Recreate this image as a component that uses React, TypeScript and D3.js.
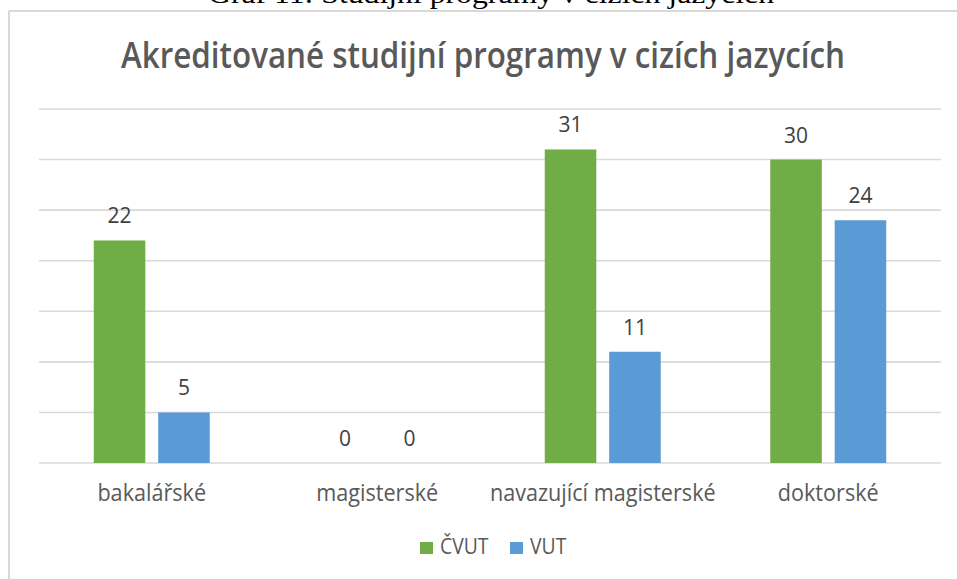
import * as d3 from "d3";

// chart data
const categories = ["bakalářské", "magisterské", "navazující magisterské", "doktorské"];
const seriesNames = ["ČVUT", "VUT"];
const cvut = [22, 0, 31, 30];
const vut = [5, 0, 11, 24];
const yTicks = [0, 5, 10, 15, 20, 25, 30, 35];

const caption = "Graf 11: Studijní programy v cizích jazycích";
const title = "Akreditované studijní programy v cizích jazycích";

const colors = ["#70ad47", "#5b9bd5"];
const W = 957;
const H = 579;
const font = "'Open Sans', 'Noto Sans', sans-serif";
// Calibri is narrower than anything installed, so squash text a bit
const squash = 0.88;

export default function App() {
  const values = [cvut, vut];

  const x0 = d3.scaleBand<string>().domain(categories).range([39, 941]);
  const bw = x0.bandwidth();
  const x1 = d3
    .scaleBand<string>()
    .domain(seriesNames)
    .range([bw / 2 - 58, bw / 2 + 58])
    .paddingInner(0.2);

  const y = d3.scaleLinear().domain([0, 35]).range([463, 109]);

  return (
    <div style={{ position: "fixed", left: 0, top: 0 }}>
      <svg width={W} height={H} style={{ display: "block", background: "#fff" }}>
        {/* caption of the document, cut off at the top like in the source page */}
        <text
          x={491}
          y={3}
          textAnchor="middle"
          fontFamily="'Liberation Serif', 'Times New Roman', serif"
          fontSize={28}
          fill="#000"
          textLength={566}
          lengthAdjust="spacingAndGlyphs"
        >
          {caption}
        </text>

        {/* chart frame */}
        <line x1={9} x2={W} y1={11} y2={11} stroke="#d9d9d9" strokeWidth={2} />
        <line x1={9} x2={9} y1={11} y2={H} stroke="#d9d9d9" strokeWidth={2} />

        {/* title */}
        <text
          x={483}
          y={68}
          textAnchor="middle"
          fontFamily={font}
          fontSize={36}
          fontWeight={600}
          fill="#595959"
          textLength={724}
          lengthAdjust="spacingAndGlyphs"
        >
          {title}
        </text>

        {/* grid */}
        {yTicks.map((t) => (
          <line
            key={t}
            x1={39}
            x2={941}
            y1={y(t)}
            y2={y(t)}
            stroke="#d9d9d9"
            strokeWidth={1.6}
          />
        ))}

        {/* bars */}
        {categories.map((c, i) => (
          <g key={c} transform={`translate(${x0(c)},0)`}>
            {seriesNames.map((s, j) => {
              const v = values[j][i];
              const bx = x1(s)!;
              return (
                <g key={s}>
                  {v > 0 && (
                    <rect
                      x={bx}
                      y={y(v)}
                      width={x1.bandwidth()}
                      height={y(0) - y(v)}
                      fill={colors[j]}
                    />
                  )}
                  <text
                    x={bx + x1.bandwidth() / 2}
                    y={y(v) - 17}
                    textAnchor="middle"
                    fontFamily={font}
                    fontSize={21}
                    fill="#404040"
                  >
                    {v}
                  </text>
                </g>
              );
            })}
          </g>
        ))}

        {/* category labels */}
        {categories.map((c) => (
          <text
            key={c}
            transform={`translate(${x0(c)! + bw / 2},501) scale(0.94,1)`}
            textAnchor="middle"
            fontFamily={font}
            fontSize={23}
            fill="#595959"
          >
            {c}
          </text>
        ))}

        {/* legend */}
        {seriesNames.map((s, j) => {
          const lx = [420, 510][j];
          return (
            <g key={s}>
              <rect x={lx} y={542} width={13} height={12} fill={colors[j]} />
              <text
                transform={`translate(${lx + 20},554) scale(${squash},1)`}
                fontFamily={font}
                fontSize={22}
                fill="#595959"
              >
                {s}
              </text>
            </g>
          );
        })}
      </svg>
    </div>
  );
}
